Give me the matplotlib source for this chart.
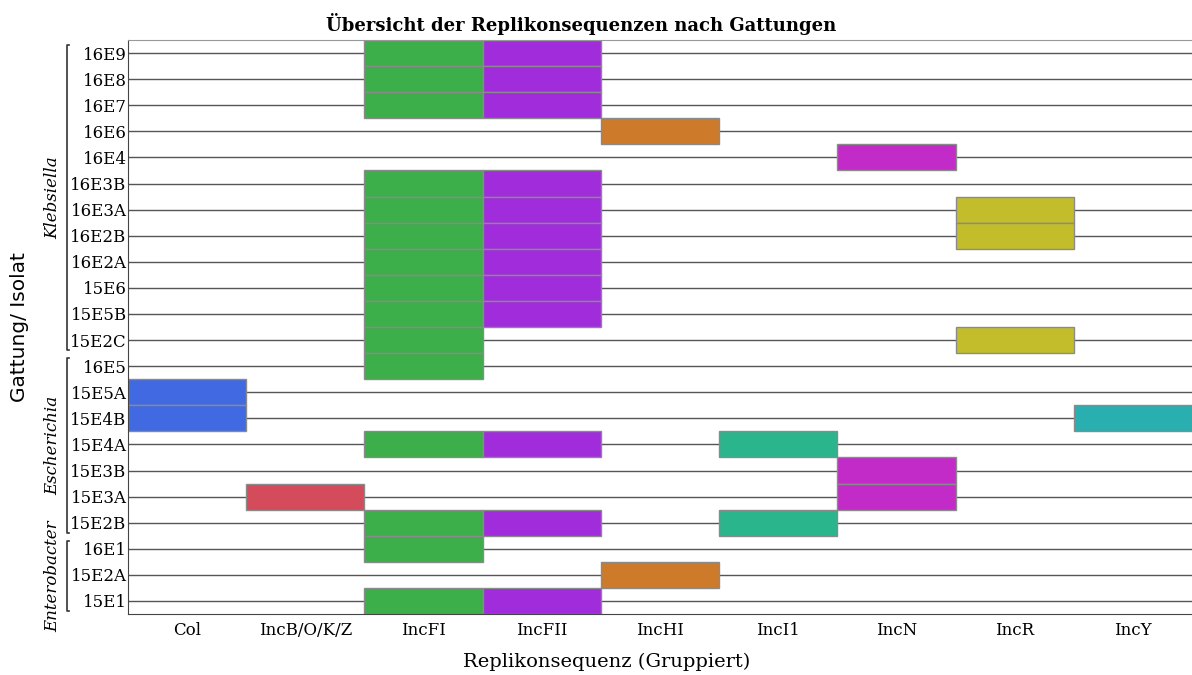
import matplotlib.pyplot as plt
import matplotlib.transforms as mtransforms

isolates = ["16E9", "16E8", "16E7", "16E6", "16E4", "16E3B", "16E3A", "16E2B",
            "16E2A", "15E6", "15E5B", "15E2C", "16E5", "15E5A", "15E4B", "15E4A",
            "15E3B", "15E3A", "15E2B", "16E1", "15E2A", "15E1"]
replicons = ["Col", "IncB/O/K/Z", "IncFI", "IncFII", "IncHI", "IncI1", "IncN", "IncR", "IncY"]
colors = ["#4169e1", "#d44b5b", "#3caf4a", "#a02cdc", "#cd7a2b",
          "#2bb58c", "#c32bc8", "#c4bd2b", "#2aafb1"]

# which isolates carry each replicon
hits = {
    "Col": ["15E5A", "15E4B"],
    "IncB/O/K/Z": ["15E3A"],
    "IncFI": ["16E9", "16E8", "16E7", "16E3B", "16E3A", "16E2B", "16E2A", "15E6",
              "15E5B", "15E2C", "16E5", "15E4A", "15E2B", "16E1", "15E1"],
    "IncFII": ["16E9", "16E8", "16E7", "16E3B", "16E3A", "16E2B", "16E2A", "15E6",
               "15E5B", "15E4A", "15E2B", "15E1"],
    "IncHI": ["16E6", "15E2A"],
    "IncI1": ["15E4A", "15E2B"],
    "IncN": ["16E4", "15E3B", "15E3A"],
    "IncR": ["16E3A", "16E2B", "15E2C"],
    "IncY": ["15E4B"],
}

genera = ["Klebsiella", "Escherichia", "Enterobacter"]
genus_first = ["16E9", "16E5", "16E1"]
genus_last = ["15E2C", "15E2B", "15E1"]

serif = "DejaVu Serif"
fig = plt.figure(figsize=(11.92, 6.75), dpi=100)
ax = fig.add_axes([128 / 1192, 61 / 675, 1064 / 1192, 574 / 675])

ypos = {name: i for i, name in enumerate(isolates)}
for i in range(len(isolates)):
    ax.axhline(i, color="#555555", lw=1, zorder=0)

for j, rep in enumerate(replicons):
    ys = [ypos[s] for s in hits[rep]]
    ax.barh(ys, 1, left=j - 0.5, height=1, color=colors[j],
            edgecolor="#8a8a8a", linewidth=1, zorder=2)

ax.set_xlim(-0.5, len(replicons) - 0.5)
ax.set_ylim(len(isolates) - 0.5, -0.5)
ax.set_xticks(range(len(replicons)))
ax.set_xticklabels(replicons, fontfamily=serif, fontsize=12)
ax.set_yticks(range(len(isolates)))
ax.set_yticklabels(isolates, fontfamily=serif, fontsize=12)
ax.tick_params(length=0, pad=6)
ax.tick_params(axis="y", pad=1)
for side in ["left", "bottom"]:
    ax.spines[side].set_color("#444444")
ax.spines["top"].set_color("#999999")
ax.spines["right"].set_visible(False)

fig.text(607 / 1192, 1 - 667 / 675, "Replikonsequenz (Gruppiert)", fontfamily=serif,
         fontsize=14, ha="center", va="baseline")
fig.text(20 / 1192, 1 - 327 / 675, "Gattung/ Isolat", rotation=90, fontsize=14.5,
         ha="center", va="center")
fig.text(581 / 1192, 1 - 31 / 675, "Übersicht der Replikonsequenzen nach Gattungen",
         fontfamily=serif, fontsize=13, fontweight="bold", ha="center", va="baseline")

# genus brackets on the left
trans = mtransforms.blended_transform_factory(ax.transAxes, ax.transData)
bx = -61 / 1064
for g, a, b in zip(genera, genus_first, genus_last):
    y0 = ypos[a] - 0.3
    y1 = ypos[b] + 0.38
    ax.plot([bx + 0.002, bx, bx, bx + 0.002], [y0, y0, y1, y1], color="#333333",
            lw=1.2, transform=trans, clip_on=False)
    ax.text(bx - 0.013, (y0 + y1) / 2, g, rotation=90, style="italic",
            fontfamily=serif, fontsize=12, ha="center", va="center",
            transform=trans)

fig.savefig("out.png", dpi=100)
